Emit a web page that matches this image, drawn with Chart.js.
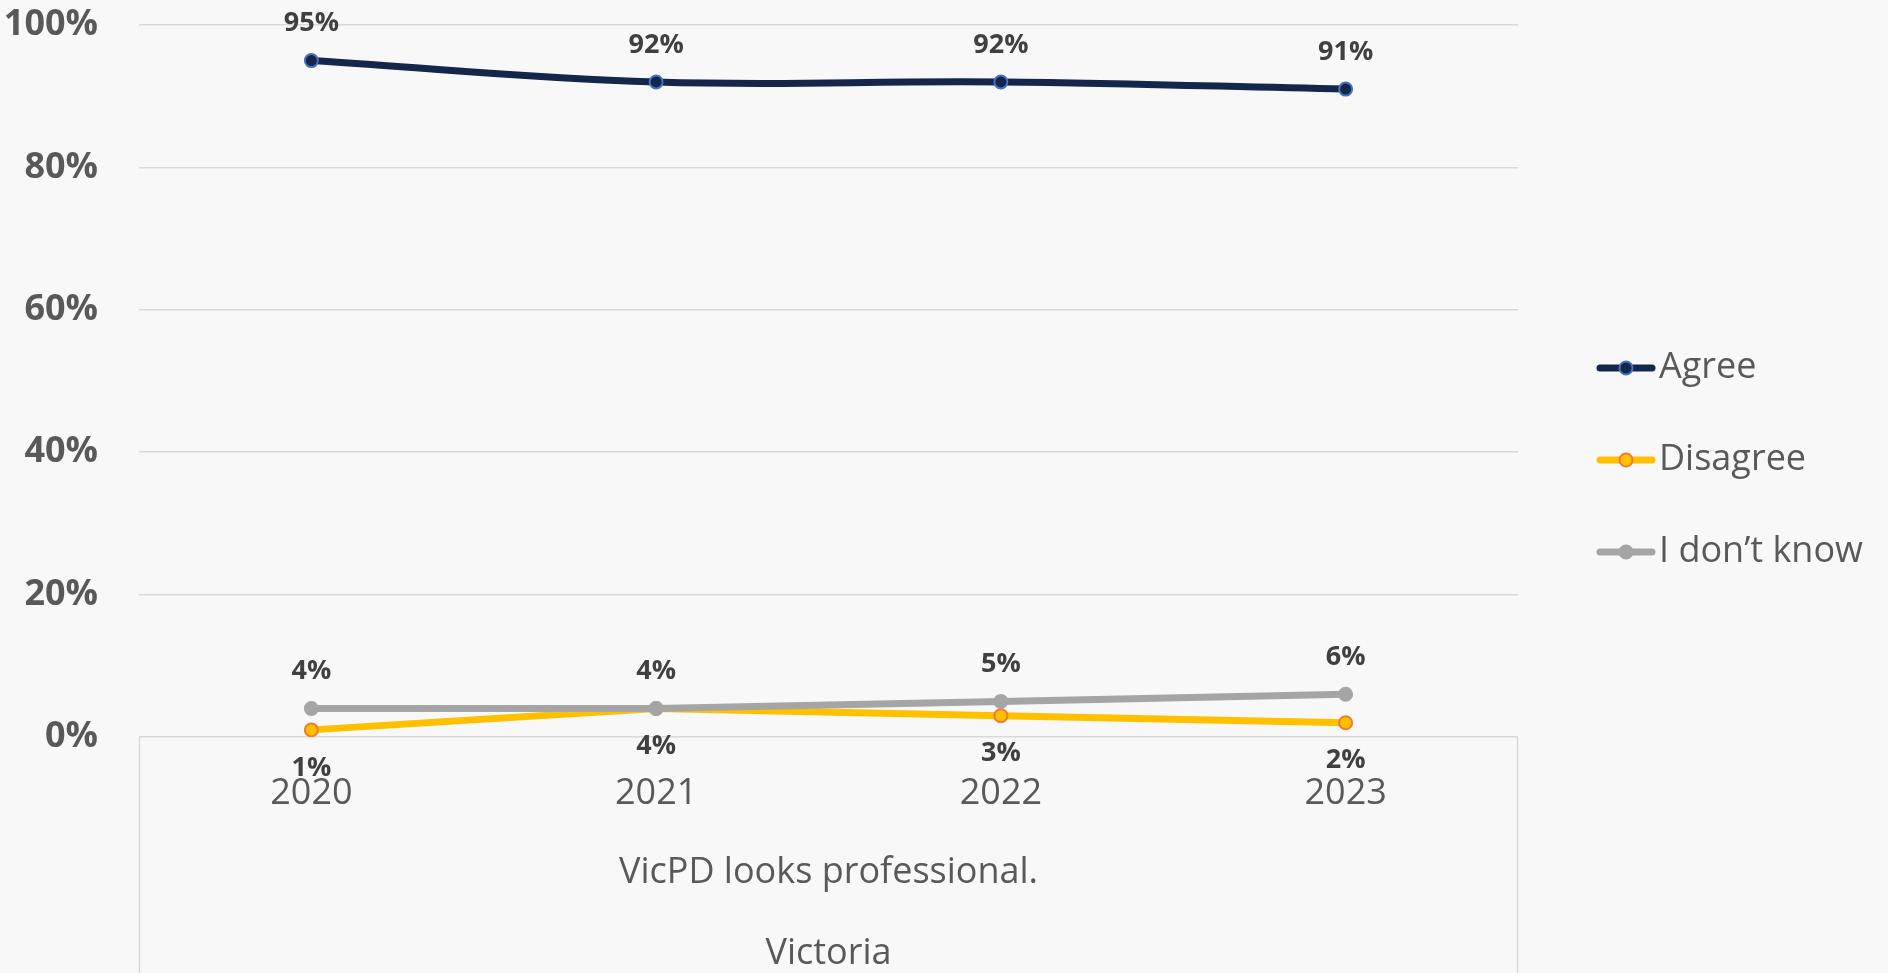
<!DOCTYPE html>
<html><head><meta charset="utf-8">
<script src="https://cdn.jsdelivr.net/npm/chart.js@4.4.0/dist/chart.umd.min.js"></script>
<style>
html,body{margin:0;padding:0;background:#f8f8f8;overflow:hidden}
#wrap{width:1888px;height:973px;position:relative}
canvas{display:block}
</style></head>
<body><div id="wrap"><canvas id="c" width="1888" height="973"></canvas></div>
<script>
const categories = ['2020', '2021', '2022', '2023'];
const agree = [95, 92, 92, 91];
const disagree = [1, 4, 3, 2];
const dontKnow = [4, 4, 5, 6];
const seriesNames = ['Agree', 'Disagree', 'I don\u2019t know'];
const yTickValues = [0, 20, 40, 60, 80, 100];
const axisTitle = ['VicPD looks professional.', 'Victoria'];

const FONT = '"Open Sans", "Liberation Sans", sans-serif';
const GRID = '#d9d9d9';

const bgPlugin = {
  id: 'bg',
  beforeDraw(chart) {
    const ctx = chart.ctx;
    ctx.save();
    ctx.fillStyle = '#f8f8f8';
    ctx.fillRect(0, 0, chart.width, chart.height);
    ctx.restore();
  },
  afterDraw(chart) {
    const x = chart.scales.x, ctx = chart.ctx;
    ctx.save();
    ctx.strokeStyle = GRID;
    ctx.lineWidth = 1.5;
    ctx.beginPath();
    ctx.moveTo(x.left + 0.5, x.top);
    ctx.lineTo(x.left + 0.5, x.bottom);
    ctx.moveTo(x.right - 0.5, x.top);
    ctx.lineTo(x.right - 0.5, x.bottom);
    ctx.stroke();
    ctx.restore();
  }
};

const labelPlugin = {
  id: 'dataLabels',
  afterDatasetsDraw(chart) {
    const ctx = chart.ctx;
    ctx.save();
    ctx.font = 'bold 27px ' + FONT;
    ctx.fillStyle = '#404040';
    ctx.textAlign = 'center';
    ctx.textBaseline = 'middle';
    chart.data.datasets.forEach((ds, i) => {
      const meta = chart.getDatasetMeta(i);
      meta.data.forEach((pt, j) => {
        const off = ds.labelBelow ? 38 : -37;
        ctx.fillText(ds.data[j] + '%', pt.x, pt.y + off);
      });
    });
    ctx.restore();
  }
};

const legendPlugin = {
  id: 'sideLegend',
  afterDraw(chart) {
    const ctx = chart.ctx;
    const ys = [368, 460, 552];
    const x0 = 1597, x1 = 1655, tx = 1659;
    ctx.save();
    chart.data.datasets.forEach((ds, i) => {
      const y = ys[i];
      ctx.strokeStyle = ds.borderColor;
      ctx.lineWidth = ds.borderWidth;
      ctx.lineCap = 'round';
      ctx.beginPath();
      ctx.moveTo(x0 + 3, y);
      ctx.lineTo(x1 - 3, y);
      ctx.stroke();
      ctx.beginPath();
      ctx.arc((x0 + x1) / 2, y, ds.pointRadius, 0, Math.PI * 2);
      ctx.fillStyle = ds.pointBackgroundColor;
      ctx.fill();
      ctx.lineWidth = ds.pointBorderWidth;
      ctx.strokeStyle = ds.pointBorderColor;
      ctx.stroke();
      ctx.font = '36px ' + FONT;
      ctx.fillStyle = '#595959';
      ctx.textAlign = 'left';
      ctx.textBaseline = 'middle';
      ctx.fillText(seriesNames[i], tx, y);
    });
    ctx.restore();
  }
};

function build() {
  new Chart(document.getElementById('c'), {
    type: 'line',
    data: {
      labels: categories,
      datasets: [
        { label: seriesNames[0], data: agree, borderColor: '#14264a', borderWidth: 7,
          pointRadius: 6.5, pointBackgroundColor: '#14264a', pointBorderColor: '#4472c4', pointBorderWidth: 2,
          tension: 0.4, order: 2 },
        { label: seriesNames[1], data: disagree, borderColor: '#ffc000', borderWidth: 7,
          pointRadius: 6.5, pointBackgroundColor: '#ffc000', pointBorderColor: '#ed7d31', pointBorderWidth: 2,
          tension: 0, order: 1, labelBelow: true },
        { label: seriesNames[2], data: dontKnow, borderColor: '#a5a5a5', borderWidth: 7,
          pointRadius: 6.5, pointBackgroundColor: '#a5a5a5', pointBorderColor: '#a5a5a5', pointBorderWidth: 2,
          tension: 0, order: 0 }
      ]
    },
    options: {
      responsive: false,
      animation: false,
      devicePixelRatio: 1,
      layout: { padding: { top: 25, right: 370, left: 0, bottom: 0 } },
      plugins: { legend: { display: false }, tooltip: { enabled: false } },
      scales: {
        x: {
          offset: true,
          grid: { display: false, drawTicks: false },
          border: { display: false },
          ticks: { color: '#595959', font: { family: FONT, size: 36 }, padding: 35, maxRotation: 0 },
          title: { display: true, text: axisTitle, color: '#595959',
                   font: { family: FONT, size: 36, lineHeight: 2.25 }, padding: { top: 0, bottom: -21 } },
          afterFit(s) { s.height = 236; s.paddingLeft = 0; s.paddingRight = 0; }
        },
        y: {
          min: 0, max: 100,
          afterBuildTicks(s) { s.ticks = yTickValues.map(v => ({ value: v })); },
          grid: { color: GRID, lineWidth: 1.5, drawTicks: false },
          border: { display: false },
          ticks: { color: '#595959', font: { family: FONT, size: 36, weight: 'bold' }, padding: 41,
                   callback: v => v + '%' },
          afterFit(s) { s.width = 139; s.paddingTop = 0; s.paddingBottom = 0; }
        }
      }
    },
    plugins: [bgPlugin, labelPlugin, legendPlugin]
  });
}

Promise.all([
  document.fonts.load('36px "Open Sans"'),
  document.fonts.load('bold 36px "Open Sans"')
]).then(build, build);
</script>
</body></html>
